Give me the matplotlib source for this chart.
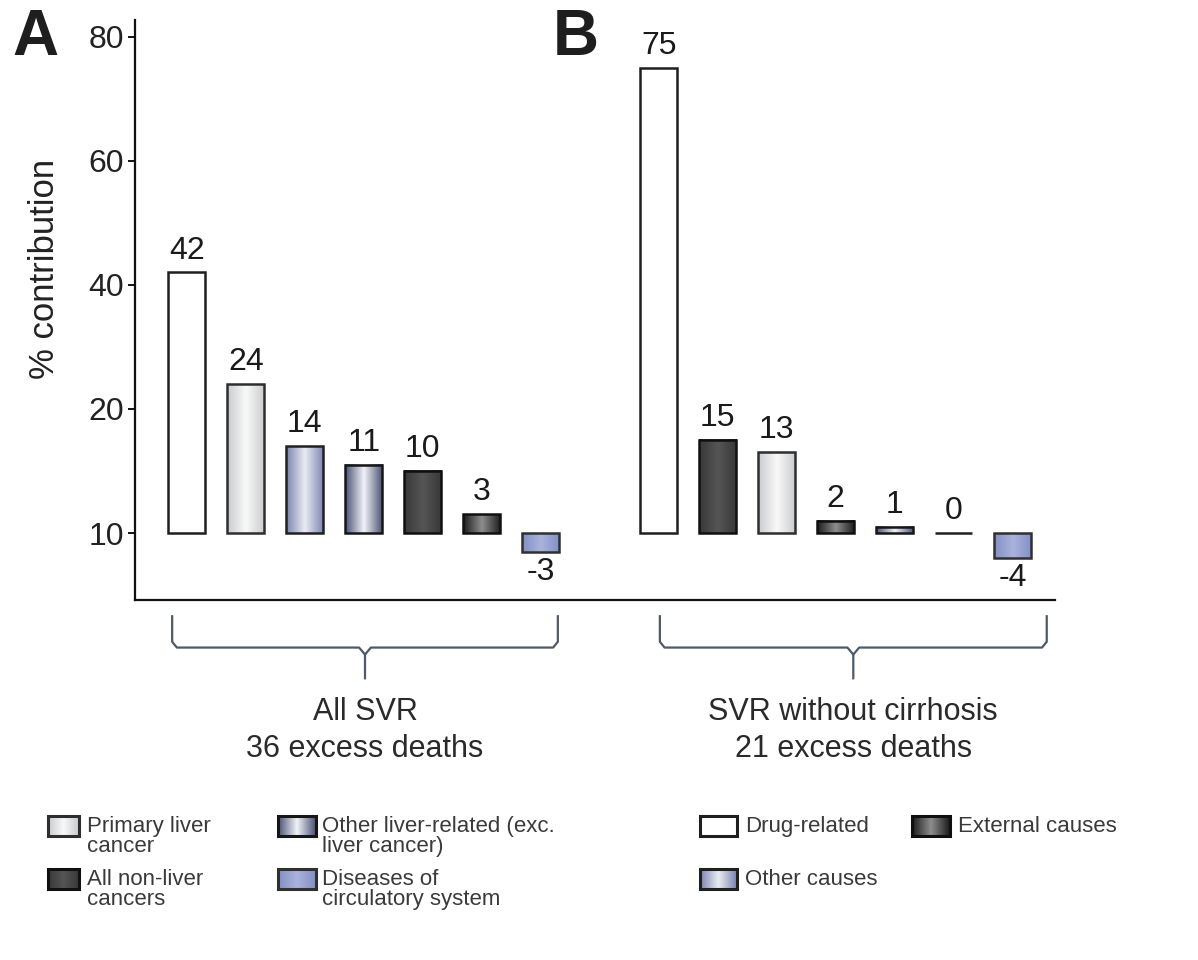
import numpy as np
import matplotlib
matplotlib.use("Agg")
import matplotlib.pyplot as plt
from matplotlib.colors import LinearSegmentedColormap
from matplotlib.patches import Rectangle
from matplotlib.transforms import blended_transform_factory

plt.rcParams["font.family"] = ["Liberation Sans", "DejaVu Sans"]

# ---- data -----------------------------------------------------------------
causes_a = [
    "Drug-related",
    "Primary liver cancer",
    "Other causes",
    "Other liver-related (exc. liver cancer)",
    "All non-liver cancers",
    "External causes",
    "Diseases of circulatory system",
]
values_a = [42, 24, 14, 11, 10, 3, -3]

causes_b = [
    "Drug-related",
    "All non-liver cancers",
    "Primary liver cancer",
    "External causes",
    "Other liver-related (exc. liver cancer)",
    "Other causes",
    "Diseases of circulatory system",
]
values_b = [75, 15, 13, 2, 1, 0, -4]

group_titles = ["All SVR\n36 excess deaths", "SVR without cirrhosis\n21 excess deaths"]

y_ticks = [0, 20, 40, 60, 80]
y_tick_labels = ["10", "20", "40", "60", "80"]

# legend: (cause, wrapped text), laid out column by column
legend_cols = [
    [("Primary liver cancer", "Primary liver\ncancer"), ("All non-liver cancers", "All non-liver\ncancers")],
    [("Other liver-related (exc. liver cancer)", "Other liver-related (exc.\nliver cancer)"),
     ("Diseases of circulatory system", "Diseases of\ncirculatory system")],
    [("Drug-related", "Drug-related"), ("Other causes", "Other causes")],
    [("External causes", "External causes")],
]

# (side colour, centre colour, edge colour)
STYLES = {
    "Drug-related": ("#ffffff", "#ffffff", "#1e1e1e"),
    "Primary liver cancer": ("#c9cbce", "#f8f8f8", "#2e2e2e"),
    "Other liver-related (exc. liver cancer)": ("#4a5274", "#eef0f5", "#161616"),
    "All non-liver cancers": ("#383838", "#555555", "#101010"),
    "Diseases of circulatory system": ("#8290c6", "#aab2dc", "#303030"),
    "External causes": ("#1c1c1c", "#8c8c8c", "#101010"),
    "Other causes": ("#7b84b0", "#e8eaf2", "#202020"),
}

BAR_W = 0.63


def shade(ax, x0, y0, w, h, cause):
    side, mid, _ = STYLES[cause]
    if h == 0:
        return
    ramp = np.abs(np.linspace(-1, 1, 64))[None, :]
    cmap = LinearSegmentedColormap.from_list("bar", [mid, side])
    ax.imshow(ramp, cmap=cmap, extent=[x0, x0 + w, y0, y0 + h], aspect="auto",
              origin="lower", interpolation="bilinear", zorder=2)


def draw_group(ax, positions, values, causes):
    for x, v, c in zip(positions, values, causes):
        edge = STYLES[c][2]
        shade(ax, x - BAR_W / 2, 0, BAR_W, v, c)
        ax.bar(x, v, width=BAR_W, facecolor="none", edgecolor=edge,
               linewidth=1.8, zorder=3)
        if v >= 0:
            ax.annotate(str(v), (x, v), xytext=(0, 5), textcoords="offset points",
                        ha="center", va="bottom", fontsize=23, color="#1a1a1a")
        else:
            ax.annotate(str(v), (x, v), xytext=(0, -4), textcoords="offset points",
                        ha="center", va="top", fontsize=23, color="#1a1a1a")


def draw_bracket(ax, x_left, x_right, title):
    trans = blended_transform_factory(ax.transData, ax.transAxes)
    xm = (x_left + x_right) / 2
    y_top, y_bar, y_tip = -0.028, -0.082, -0.135
    col = "#4d5b68"
    ax.plot([x_left, x_left, x_left + 0.08, xm - 0.1, xm, xm],
            [y_top, y_bar + 0.01, y_bar, y_bar, y_bar - 0.012, y_tip],
            transform=trans, color=col, lw=1.6, clip_on=False)
    ax.plot([xm, xm + 0.1, x_right - 0.08, x_right, x_right],
            [y_bar - 0.012, y_bar, y_bar, y_bar + 0.01, y_top],
            transform=trans, color=col, lw=1.6, clip_on=False)
    ax.text(xm, -0.225, title, transform=trans, ha="center", va="center",
            fontsize=22, color="#2a2a2a", linespacing=1.3)


fig = plt.figure(figsize=(11.98, 9.6), dpi=100)
ax = fig.add_axes([135 / 1198, 360 / 960, 920 / 1198, 580 / 960])

pos_a = np.arange(len(values_a))
pos_b = np.arange(len(values_b)) + 8

draw_group(ax, pos_a, values_a, causes_a)
draw_group(ax, pos_b, values_b, causes_b)

ax.set_xlim(-0.88, 14.72)
ax.set_ylim(-10.8, 82.7)
ax.set_xticks([])
ax.set_yticks(y_ticks)
ax.set_yticklabels(y_tick_labels, family=["Liberation Sans Narrow", "Liberation Sans"],
                   fontsize=23, color="#222222")
ax.tick_params(axis="y", direction="out", length=5, width=1.3, pad=3)
for side in ("top", "right"):
    ax.spines[side].set_visible(False)
for side in ("left", "bottom"):
    ax.spines[side].set_linewidth(1.6)
    ax.spines[side].set_color("#111111")

ax.set_ylabel("% contribution", fontsize=25, color="#222222")
ax.yaxis.set_label_coords(-0.08, 0.57)

draw_bracket(ax, pos_a[0] - 0.25, pos_a[-1] + 0.29, group_titles[0])
draw_bracket(ax, pos_b[0] + 0.02, pos_b[-1] + 0.58, group_titles[1])

# overlay in pixel coordinates for panel letters and legend
ov = fig.add_axes([0, 0, 1, 1], zorder=5)
ov.axis("off")

ov.text(35, 38, "A", fontsize=46, fontweight="bold", ha="center", va="center", color="#1e1e1e")
ov.text(576, 38, "B", fontsize=46, fontweight="bold", ha="center", va="center", color="#1e1e1e")

col_icon_x = [48, 278, 700, 912]
col_icon_w = [31, 38, 37, 38]
col_text_x = [87, 322, 745, 958]
row_y = [826, 879]
icon_h = 20
for ci, column in enumerate(legend_cols):
    for ri, (cause, text) in enumerate(column):
        side, mid, edge = STYLES[cause]
        x0 = col_icon_x[ci]
        icon_w = col_icon_w[ci]
        y0 = row_y[ri] - icon_h / 2
        ramp = np.abs(np.linspace(-1, 1, 64))[None, :]
        cmap = LinearSegmentedColormap.from_list("leg", [mid, side])
        ov.imshow(ramp, cmap=cmap, extent=[x0, x0 + icon_w, y0 + icon_h, y0],
                  aspect="auto", interpolation="bilinear", zorder=1)
        ov.add_patch(Rectangle((x0, y0), icon_w, icon_h, facecolor="none",
                               edgecolor=edge, linewidth=2.2, zorder=2))
        ov.text(col_text_x[ci], row_y[ri] - 10, text, fontsize=16, color="#3a3a3a",
                ha="left", va="top", linespacing=0.95)
ov.set_xlim(0, 1198)
ov.set_ylim(960, 0)

fig.savefig("out.png", dpi=100)
